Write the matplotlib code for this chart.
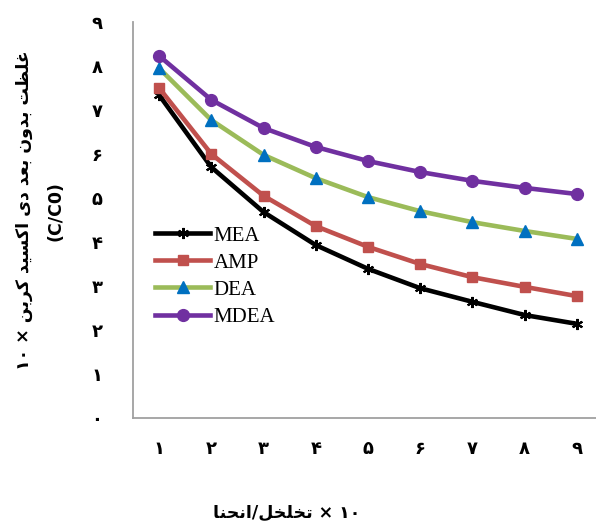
import matplotlib
matplotlib.use("Agg")
import matplotlib.pyplot as plt

# ---- data ----
categories = [1, 2, 3, 4, 5, 6, 7, 8, 9]
mea = [7.34, 5.70, 4.68, 3.93, 3.39, 2.95, 2.64, 2.34, 2.14]
amp = [7.50, 6.00, 5.05, 4.36, 3.89, 3.50, 3.20, 2.98, 2.77]
dea = [7.95, 6.77, 5.98, 5.45, 5.02, 4.70, 4.45, 4.25, 4.07]
mdea = [8.23, 7.23, 6.59, 6.16, 5.84, 5.59, 5.39, 5.23, 5.09]
series_names = ["MEA", "AMP", "DEA", "MDEA"]
y_ticks = list(range(10))

# ---- simple Arabic-script shaping (presentation forms) ----
FORMS = {
    "ا": ("\uFE8D", "\uFE8E", None, None),
    "ب": ("\uFE8F", "\uFE90", "\uFE91", "\uFE92"),
    "ت": ("\uFE95", "\uFE96", "\uFE97", "\uFE98"),
    "ح": ("\uFEA1", "\uFEA2", "\uFEA3", "\uFEA4"),
    "خ": ("\uFEA5", "\uFEA6", "\uFEA7", "\uFEA8"),
    "د": ("\uFEA9", "\uFEAA", None, None),
    "ر": ("\uFEAD", "\uFEAE", None, None),
    "س": ("\uFEB1", "\uFEB2", "\uFEB3", "\uFEB4"),
    "ظ": ("\uFEC5", "\uFEC6", "\uFEC7", "\uFEC8"),
    "ع": ("\uFEC9", "\uFECA", "\uFECB", "\uFECC"),
    "غ": ("\uFECD", "\uFECE", "\uFECF", "\uFED0"),
    "ل": ("\uFEDD", "\uFEDE", "\uFEDF", "\uFEE0"),
    "ن": ("\uFEE5", "\uFEE6", "\uFEE7", "\uFEE8"),
    "و": ("\uFEED", "\uFEEE", None, None),
    "ک": ("\uFB8E", "\uFB8F", "\uFB90", "\uFB91"),
    "ی": ("\uFBFC", "\uFBFD", "\uFBFE", "\uFBFF"),
}


def dual(c):
    return c in FORMS and FORMS[c][2] is not None


def shape(text):
    out = []
    for i, c in enumerate(text):
        if c not in FORMS:
            out.append(c)
            continue
        prev = text[i - 1] if i > 0 else ""
        nxt = text[i + 1] if i + 1 < len(text) else ""
        join_prev = dual(prev)
        join_next = dual(c) and nxt in FORMS
        iso, fin, ini, med = FORMS[c]
        if join_prev and join_next:
            out.append(med)
        elif join_prev:
            out.append(fin)
        elif join_next:
            out.append(ini)
        else:
            out.append(iso)
    return "".join(out)


def rtl(text):
    return shape(text)[::-1]


def fa_digits(n):
    return "".join(chr(0x06F0 + int(d)) for d in str(n))


ten = fa_digits(10)
ylabel_line1 = ten + " × " + rtl("غلظت بدون بعد دی اکسید کربن")
ylabel_line2 = "(C/C0)"
xlabel_text = rtl("انحنا") + "/" + rtl("تخلخل") + " × " + ten

# ---- figure ----
W, H = 596, 529
fig = plt.figure(figsize=(W / 100, H / 100), dpi=100)
ax = fig.add_axes([133 / W, (H - 418) / H, (603 - 133) / W, (418 - 22) / H])

lw = 3.3
ax.plot(categories, mea, color="black", lw=lw, marker=(6, 2, 0), ms=8,
        mew=1.5, mec="black", label=series_names[0], zorder=3)
ax.plot(categories, amp, color="#C0504D", lw=lw, marker="s", ms=6.5,
        mec="#C0504D", mfc="#C0504D", label=series_names[1], zorder=3)
ax.plot(categories, dea, color="#9BBB59", lw=lw, marker="^", ms=8.5,
        mec="#0070C0", mfc="#0070C0", label=series_names[2], zorder=3)
ax.plot(categories, mdea, color="#7030A0", lw=lw, marker="o", ms=8.5,
        mec="#7030A0", mfc="#7030A0", label=series_names[3], zorder=3)

ax.set_xlim(0.5, 9.5)
ax.set_ylim(0, 9)
ax.set_xticks(categories)
ax.set_xticklabels([fa_digits(c) for c in categories])
ax.set_yticks(y_ticks)
ax.set_yticklabels([fa_digits(v) for v in y_ticks])

for lab in ax.get_xticklabels() + ax.get_yticklabels():
    lab.set_fontfamily("DejaVu Sans")
    lab.set_fontweight("bold")
    lab.set_fontsize(13)

ax.tick_params(axis="both", length=0)
ax.tick_params(axis="x", pad=16)
ax.tick_params(axis="y", pad=22)
for s in ("top", "right"):
    ax.spines[s].set_visible(False)
for s in ("left", "bottom"):
    ax.spines[s].set_color("#A0A0A0")
    ax.spines[s].set_linewidth(1.3)

leg = ax.legend(loc="upper left", bbox_to_anchor=(155 / W, 1 - 226 / H),
                bbox_transform=fig.transFigure, frameon=False,
                prop={"family": "Liberation Serif", "size": 15},
                handlelength=2.65, handletextpad=0.15, labelspacing=0.36,
                borderpad=0, borderaxespad=0)

fig.text(24 / W, 1 - 210 / H, ylabel_line1, rotation=90,
         ha="center", va="center",
         fontfamily="DejaVu Sans", fontweight="bold", fontsize=12.5)
fig.text(56 / W, 1 - 211 / H, ylabel_line2, rotation=90,
         ha="center", va="center",
         fontfamily="DejaVu Sans", fontweight="bold", fontsize=12.5)
fig.text(287 / W, 1 - 513 / H, xlabel_text, ha="center", va="center",
         fontfamily="DejaVu Sans", fontweight="bold", fontsize=12.5)

fig.savefig("out.png", dpi=100)
